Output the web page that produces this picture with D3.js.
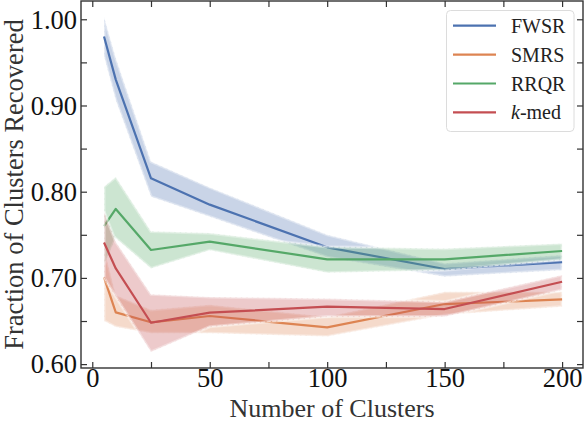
<!DOCTYPE html>
<html><head><meta charset="utf-8">
<script src="https://cdn.jsdelivr.net/npm/d3@7"></script>
<style>html,body{margin:0;padding:0;background:#fff;}svg{display:block;}</style>
</head><body>
<svg id="chart" width="586" height="422"></svg>
<script>
// ---- data ----
const xValues = [5, 10, 25, 50, 100, 150, 200];
const seriesNames = ["FWSR", "SMRS", "RRQR", "k-med"];
const fwsrMean = [0.980, 0.930, 0.8155, 0.785, 0.7355, 0.7103, 0.7182];
const fwsrLow  = [0.957, 0.906, 0.794, 0.771, 0.724, 0.7014, 0.709];
const fwsrHigh = [1.003, 0.955, 0.835, 0.805, 0.750, 0.717, 0.7265];
const smrsMean = [0.7007, 0.660, 0.6485, 0.6558, 0.6427, 0.6697, 0.675];
const smrsLow  = [0.650, 0.643, 0.6357, 0.6357, 0.632, 0.657, 0.6666];
const smrsHigh = [0.735, 0.680, 0.663, 0.669, 0.655, 0.684, 0.684];
const rrqrMean = [0.760, 0.780, 0.7324, 0.742, 0.7216, 0.7216, 0.7312];
const rrqrLow  = [0.715, 0.746, 0.711, 0.732, 0.706, 0.709, 0.721];
const rrqrHigh = [0.806, 0.817, 0.754, 0.752, 0.736, 0.734, 0.740];
const kmedMean = [0.741, 0.711, 0.648, 0.6597, 0.6666, 0.6639, 0.6956];
const kmedLow  = [0.700, 0.678, 0.614, 0.6434, 0.655, 0.655, 0.686];
const kmedHigh = [0.777, 0.742, 0.681, 0.678, 0.676, 0.6724, 0.7034];
const xTickValues = [0, 50, 100, 150, 200];
const xMinorTicks = [0, 25, 50, 75, 100, 125, 150, 175, 200];
const yTickValues = [0.60, 0.70, 0.80, 0.90, 1.00];
const yMinorTicks = [0.60, 0.65, 0.70, 0.75, 0.80, 0.85, 0.90, 0.95, 1.00];
const xTitle = "Number of Clusters";
const yTitle = "Fraction of Clusters Recovered";

// ---- layout / style ----
const colors = ["#4C72B0", "#DD8452", "#55A868", "#C44E52"];
const M = {left: 81, right: 583, top: 1, bottom: 368};
const font = "'Liberation Serif','Times New Roman',serif";

const series = [
  {name: seriesNames[0], mean: fwsrMean, lo: fwsrLow, hi: fwsrHigh, color: colors[0]},
  {name: seriesNames[1], mean: smrsMean, lo: smrsLow, hi: smrsHigh, color: colors[1]},
  {name: seriesNames[2], mean: rrqrMean, lo: rrqrLow, hi: rrqrHigh, color: colors[2]},
  {name: seriesNames[3], mean: kmedMean, lo: kmedLow, hi: kmedHigh, color: colors[3]}
];

const svg = d3.select("#chart");
const x = d3.scaleLinear().domain([-4.8, 208.9]).range([M.left, M.right]);
const y = d3.scaleLinear().domain([0.5955, 1.0212]).range([M.bottom, M.top]);

const clipId = "plotclip";
svg.append("defs").append("clipPath").attr("id", clipId)
  .append("rect").attr("x", M.left).attr("y", M.top)
  .attr("width", M.right - M.left).attr("height", M.bottom - M.top);

const plot = svg.append("g").attr("clip-path", `url(#${clipId})`);

const area = d3.area().x(d => x(d.x)).y0(d => y(d.lo)).y1(d => y(d.hi));
const line = d3.line().x(d => x(d.x)).y(d => y(d.m));

series.forEach(s => {
  const pts = xValues.map((xv, i) => ({x: xv, lo: s.lo[i], hi: s.hi[i], m: s.mean[i]}));
  plot.append("path").datum(pts).attr("d", area)
    .attr("fill", s.color).attr("fill-opacity", 0.3).attr("stroke", "none");
  plot.append("path").datum(pts).attr("d", area)
    .attr("fill", "none").attr("stroke", "#fff").attr("stroke-opacity", 0.35)
    .attr("stroke-width", 3.2);
  plot.append("path").datum(pts).attr("d", area)
    .attr("fill", "none").attr("stroke", "#fff").attr("stroke-opacity", 0.85)
    .attr("stroke-width", 0.7).attr("stroke-dasharray", "4,1.5");
  plot.append("path").datum(pts).attr("d", line)
    .attr("fill", "none").attr("stroke", s.color).attr("stroke-width", 2.2)
    .attr("stroke-linejoin", "round");
});

// ---- axes (ticks inward on all sides) ----
const tickLen = 6;
const axisColor = "#333";
const axBottom = svg.append("g").attr("transform", `translate(0,${M.bottom})`)
  .call(d3.axisBottom(x).tickValues(xMinorTicks).tickSize(-tickLen).tickFormat(""));
const axTop = svg.append("g").attr("transform", `translate(0,${M.top})`)
  .call(d3.axisTop(x).tickValues(xMinorTicks).tickSize(-tickLen).tickFormat(""));
const axLeft = svg.append("g").attr("transform", `translate(${M.left},0)`)
  .call(d3.axisLeft(y).tickValues(yMinorTicks).tickSize(-tickLen).tickFormat(""));
const axRight = svg.append("g").attr("transform", `translate(${M.right},0)`)
  .call(d3.axisRight(y).tickValues(yMinorTicks).tickSize(-tickLen).tickFormat(""));
[axBottom, axTop, axLeft, axRight].forEach(a => {
  a.select(".domain").remove();
  a.selectAll(".tick line").attr("stroke", axisColor).attr("stroke-width", 1.2);
});

svg.append("rect").attr("x", M.left).attr("y", M.top)
  .attr("width", M.right - M.left).attr("height", M.bottom - M.top)
  .attr("fill", "none").attr("stroke", axisColor).attr("stroke-width", 1.4);

// tick labels
const xLab = svg.append("g").attr("transform", `translate(0,${M.bottom})`)
  .call(d3.axisBottom(x).tickValues(xTickValues).tickSize(0).tickPadding(0).tickFormat(d3.format("d")));
xLab.select(".domain").remove();
xLab.selectAll("text").attr("font-family", font).attr("font-size", 26.5)
  .attr("fill", "#111").attr("dy", null).attr("y", 19);

const yLab = svg.append("g").attr("transform", `translate(${M.left},0)`)
  .call(d3.axisLeft(y).tickValues(yTickValues).tickSize(0).tickPadding(4).tickFormat(d3.format(".2f")));
yLab.select(".domain").remove();
yLab.selectAll("text").attr("font-family", font).attr("font-size", 26.5)
  .attr("fill", "#111").attr("dy", "0.33em");

// axis titles
svg.append("text").attr("x", (M.left + M.right) / 2).attr("y", 417)
  .attr("text-anchor", "middle").attr("font-family", font).attr("font-size", 26)
  .attr("fill", "#333").text(xTitle);
svg.append("text").attr("transform", `translate(22.5,${(M.top + M.bottom) / 2}) rotate(-90)`)
  .attr("text-anchor", "middle").attr("font-family", font).attr("font-size", 26.5)
  .attr("fill", "#333").text(yTitle);

// ---- legend ----
const lg = svg.append("g");
lg.append("rect").attr("x", 446.5).attr("y", 10.5).attr("width", 127.5).attr("height", 121)
  .attr("rx", 4).attr("fill", "#fff").attr("fill-opacity", 0.85)
  .attr("stroke", "#dcdcdc").attr("stroke-width", 1);
series.forEach((s, i) => {
  const ly = 25.7 + i * 28.9;
  lg.append("line").attr("x1", 453).attr("x2", 496).attr("y1", ly).attr("y2", ly)
    .attr("stroke", s.color).attr("stroke-width", 2.2);
  const t = lg.append("text").attr("x", 511).attr("y", ly + 7)
    .attr("font-family", font).attr("font-size", 20).attr("fill", "#222");
  if (s.name === "k-med") {
    t.append("tspan").attr("font-family", font).attr("font-style", "italic").text("k");
    t.append("tspan").attr("font-family", font).text("-med");
  } else {
    t.text(s.name);
  }
});
</script>
</body></html>
